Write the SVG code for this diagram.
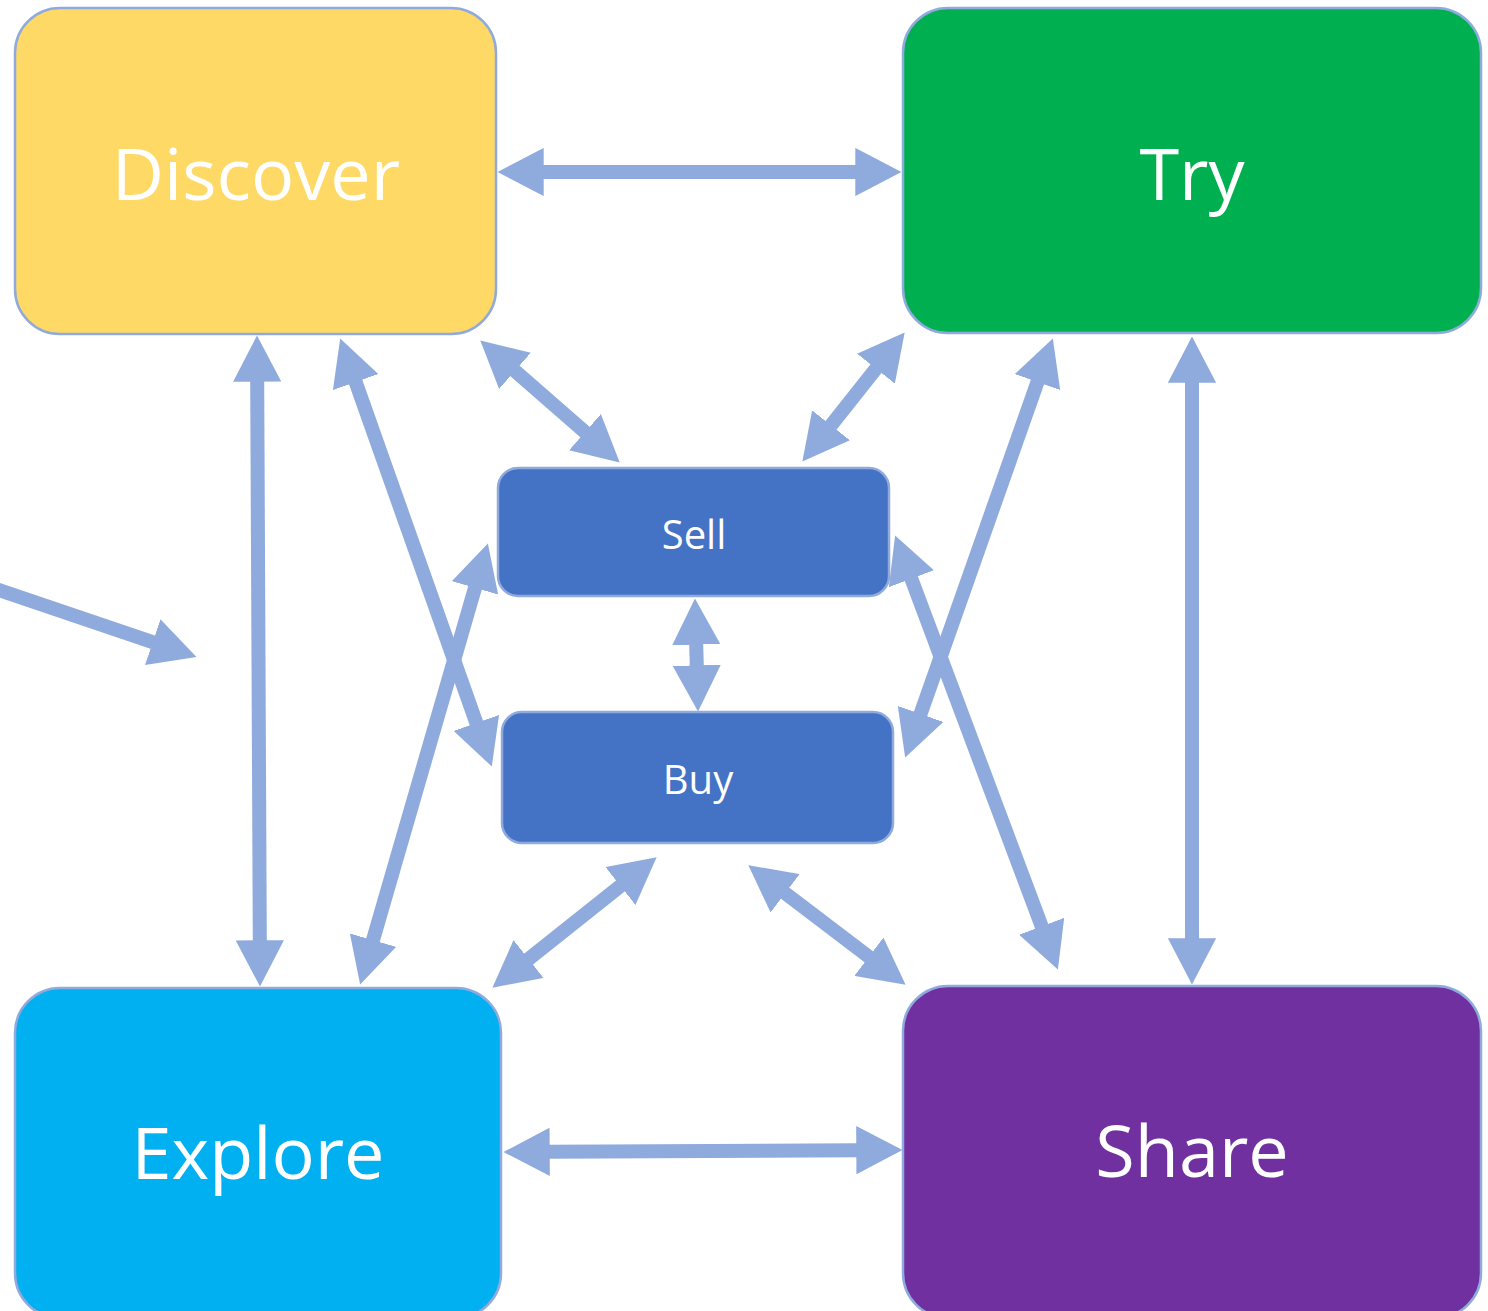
<svg xmlns="http://www.w3.org/2000/svg" width="1488" height="1311" viewBox="0 0 1488 1311">
<style>
.node{stroke:#8FAADC;stroke-width:2.5}
.big{font-family:"Open Sans","Liberation Sans",sans-serif;font-size:72px;fill:#fff;text-anchor:middle}
.small{font-family:"Open Sans","Liberation Sans",sans-serif;font-size:40px;fill:#fff;text-anchor:middle}
.conn line{stroke:#8FAADC;stroke-width:14;fill:none}
</style>
<defs>
<marker id="head" viewBox="0 0 3.3 3.44" markerUnits="strokeWidth" markerWidth="3.3" markerHeight="3.44" refX="0.05" refY="1.72" orient="auto-start-reverse">
<path d="M0,0 L3.3,1.72 L0,3.44 Z" fill="#8FAADC"/>
</marker>
</defs>
<rect width="1488" height="1311" fill="#fff"/>
<g id="discover"><rect class="node" x="15" y="8" width="481" height="326" rx="45" fill="#FFD966"/><text class="big" x="256" y="200">Discover</text></g>
<g id="try"><rect class="node" x="903" y="8" width="578" height="325" rx="45" fill="#00B050"/><text class="big" x="1192" y="200">Try</text></g>
<g id="explore"><rect class="node" x="15" y="988" width="486" height="330" rx="45" fill="#00B0F0"/><text class="big" x="258" y="1179">Explore</text></g>
<g id="share"><rect class="node" x="903" y="986" width="578" height="332" rx="45" fill="#7030A0"/><text class="big" x="1192" y="1177">Share</text></g>
<g id="sell"><rect class="node" x="498" y="468" width="391" height="128" rx="20" fill="#4472C4"/><text class="small" x="694" y="549">Sell</text></g>
<g id="buy"><rect class="node" x="502" y="712" width="391" height="131" rx="20" fill="#4472C4"/><text class="small" x="698" y="794">Buy</text></g>
<g class="conn" id="connectors">
<line x1="543" y1="172" x2="856" y2="172" marker-start="url(#head)" marker-end="url(#head)"/>
<line x1="549" y1="1151.8" x2="857" y2="1150.2" marker-start="url(#head)" marker-end="url(#head)"/>
<line x1="257.2" y1="381" x2="259.8" y2="941" marker-start="url(#head)" marker-end="url(#head)"/>
<line x1="1192" y1="382" x2="1192" y2="939" marker-start="url(#head)" marker-end="url(#head)"/>
<line x1="355.4" y1="381.4" x2="476.6" y2="723.6" marker-start="url(#head)" marker-end="url(#head)"/>
<line x1="475.2" y1="587.2" x2="372.8" y2="940.8" marker-start="url(#head)" marker-end="url(#head)"/>
<line x1="1037.7" y1="381.4" x2="920.3" y2="714.6" marker-start="url(#head)" marker-end="url(#head)"/>
<line x1="911.1" y1="578.1" x2="1041.9" y2="926.9" marker-start="url(#head)" marker-end="url(#head)"/>
<line x1="514.5" y1="370.4" x2="585.5" y2="432.6" marker-start="url(#head)" marker-end="url(#head)"/>
<line x1="876.4" y1="368.1" x2="830.6" y2="425.9" marker-start="url(#head)" marker-end="url(#head)"/>
<line x1="696.2" y1="644" x2="696.8" y2="666" marker-start="url(#head)" marker-end="url(#head)"/>
<line x1="621" y1="885.6" x2="528" y2="959.4" marker-start="url(#head)" marker-end="url(#head)"/>
<line x1="784.6" y1="892.8" x2="869.4" y2="957.2" marker-start="url(#head)" marker-end="url(#head)"/>
<line x1="-10" y1="587" x2="153.4" y2="642.3" marker-end="url(#head)"/>
</g>
</svg>
